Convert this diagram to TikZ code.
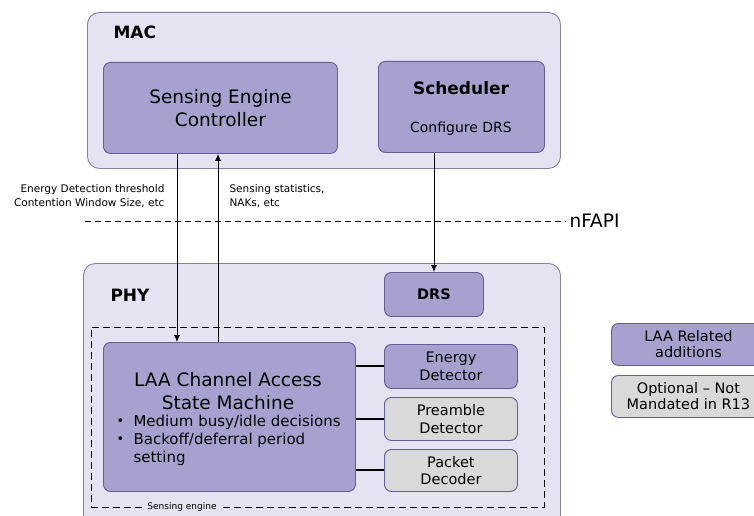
\documentclass[tikz,border=0pt]{standalone}
\usepackage{fontspec}
\setmainfont{DejaVu Sans}
\usetikzlibrary{arrows.meta}
\definecolor{layerfill}{HTML}{E4E3F1}
\definecolor{layerline}{HTML}{8581AE}
\definecolor{laafill}{HTML}{A7A1CF}
\definecolor{laaline}{HTML}{625E99}
\definecolor{optfill}{HTML}{D9D9D9}

\begin{document}
\begin{tikzpicture}[x=1pt,y=-1pt,
    layer/.style={draw=layerline,fill=layerfill,rounded corners=12pt,line width=0.9pt,anchor=north west},
    laabox/.style={draw=laaline,fill=laafill,rounded corners=7pt,line width=0.9pt,anchor=north west,align=center},
    optbox/.style={laabox,fill=optfill},
    msg/.style={-{Latex[length=7pt,width=6pt]},line width=0.8pt}]
  \useasboundingbox (0,0) rectangle (754,516);
  \clip (0,0) rectangle (754,516);

  % MAC layer
  \node[layer,minimum width=473pt,minimum height=156pt] (mac) at (87,12) {};
  \node[font=\fontsize{17}{20}\selectfont\bfseries,anchor=west] (maclabel) at (110,32) {MAC};
  \node[laabox,minimum width=234pt,minimum height=91pt,font=\fontsize{18.5}{23}\selectfont] (sec) at (103,62) {Sensing Engine\\Controller};
  \node[laabox,minimum width=166pt,minimum height=91pt] (sched) at (378,61) {};
  \node[font=\fontsize{17}{20}\selectfont\bfseries] (schedtitle) at (461,88) {Scheduler};
  \node[font=\fontsize{14}{17}\selectfont] (schedtext) at (461,129) {Configure DRS};

  % nFAPI split
  \node[font=\fontsize{18.5}{20}\selectfont,anchor=west] (nfapi) at (566,221) {nFAPI};
  \coordinate (fapistart) at (85,221);
  \draw[dash pattern=on 6pt off 4pt,line width=0.8pt] (fapistart) -- (nfapi.west);
  \node[font=\fontsize{10.5}{14}\selectfont,align=right,anchor=east] (down) at (168,196) {Energy Detection threshold\\Contention Window Size, etc};
  \node[font=\fontsize{10.5}{14}\selectfont,align=left,anchor=west] (up) at (226,196) {Sensing statistics,\\NAKs, etc};

  % PHY layer
  \node[layer,minimum width=477pt,minimum height=280pt] (phy) at (83,263) {};
  \node[font=\fontsize{17}{20}\selectfont\bfseries,anchor=west] (phylabel) at (107,295) {PHY};
  \node[laabox,minimum width=99pt,minimum height=44pt,font=\fontsize{14.5}{17}\selectfont\bfseries] (drs) at (384,272) {DRS};
  \node[draw,dash pattern=on 7pt off 4pt,line width=0.8pt,minimum width=453pt,minimum height=180pt,anchor=north west] (engine) at (91,327) {};
  \node[fill=layerfill,font=\fontsize{9}{10}\selectfont,inner sep=3pt] (enginelabel) at (182,507) {Sensing engine};

  \node[laabox,minimum width=252pt,minimum height=149pt] (laa) at (103,342) {};
  \node[font=\fontsize{18.5}{23}\selectfont,align=center] (laatitle) at (228,391.5) {LAA Channel Access\\State Machine};
  \node[font=\fontsize{13}{18}\selectfont,anchor=west] (b1) at (113,422) {\textbullet};
  \node[font=\fontsize{13}{18}\selectfont,anchor=west] (b2) at (113,440) {\textbullet};
  \node[font=\fontsize{15}{18}\selectfont,anchor=north west,align=left] (bullets) at (130,412) {Medium busy/idle decisions\\Backoff/deferral period\\setting};

  \node[laabox,minimum width=133pt,minimum height=44pt,font=\fontsize{14.5}{17.5}\selectfont] (ed) at (384,344) {Energy\\Detector};
  \node[optbox,minimum width=133pt,minimum height=43pt,font=\fontsize{14.5}{17.5}\selectfont] (pd) at (384,397) {Preamble\\Detector};
  \node[optbox,minimum width=133pt,minimum height=42pt,font=\fontsize{14.5}{17.5}\selectfont] (pkt) at (384,449) {Packet\\Decoder};
  \foreach \det in {ed,pd,pkt}
    \draw[line width=2pt] (laa.east |- \det.west) -- (\det.west);

  % messages over nFAPI
  \coordinate (cfgx) at (177,0);
  \coordinate (statx) at (218,0);
  \draw[msg] (sec.south -| cfgx) -- (laa.north -| cfgx);
  \draw[msg] (laa.north -| statx) -- (sec.south -| statx);
  \draw[msg] (sched.south -| drs.north) -- (drs.north);

  % legend
  \node[laabox,minimum width=154pt,minimum height=42pt,font=\fontsize{14.5}{16}\selectfont] (keylaa) at (611,323) {LAA Related\\additions};
  \node[optbox,minimum width=154pt,minimum height=42pt,font=\fontsize{14.5}{16}\selectfont] (keyopt) at (611,375) {Optional – Not\\Mandated in R13};
\end{tikzpicture}
\end{document}
